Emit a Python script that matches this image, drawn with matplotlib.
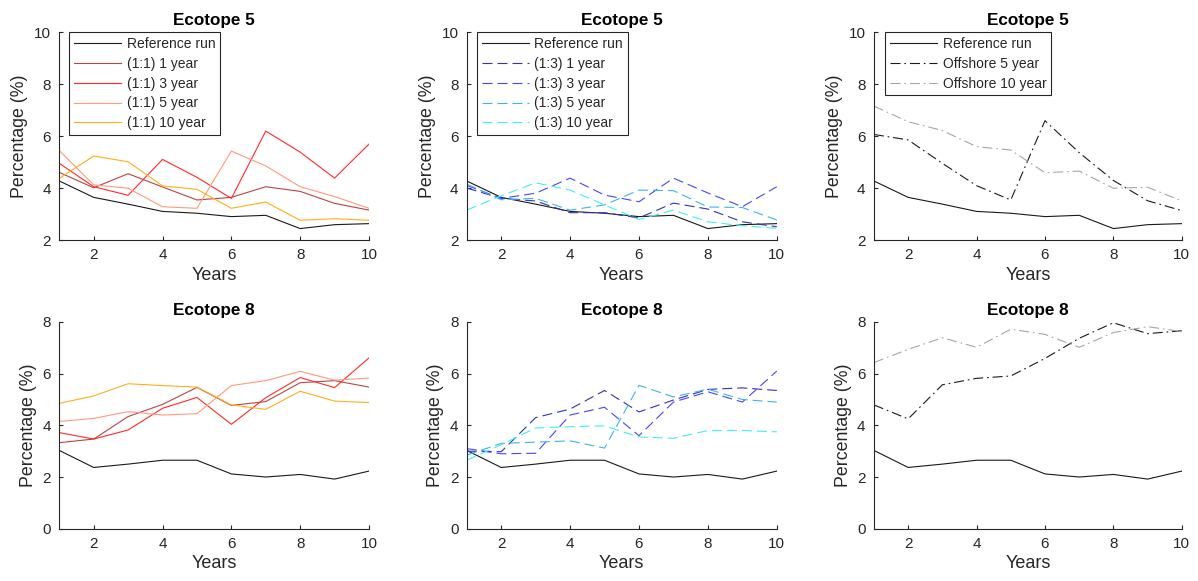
import matplotlib
matplotlib.use("Agg")
import matplotlib.pyplot as plt

plt.rcParams['font.family'] = ['Liberation Sans', 'DejaVu Sans']

years = [1, 2, 3, 4, 5, 6, 7, 8, 9, 10]

# Ecotope 5
e5_ref = [4.27, 3.64, 3.38, 3.10, 3.03, 2.90, 2.95, 2.44, 2.59, 2.63]
e5_11_1 = [4.60, 4.01, 4.55, 4.04, 3.54, 3.64, 4.05, 3.87, 3.41, 3.15]
e5_11_3 = [4.95, 4.05, 3.72, 5.10, 4.41, 3.60, 6.19, 5.38, 4.38, 5.69]
e5_11_5 = [5.44, 4.12, 3.99, 3.28, 3.22, 5.42, 4.85, 4.05, 3.67, 3.22]
e5_11_10 = [4.37, 5.23, 5.01, 4.08, 3.95, 3.22, 3.46, 2.76, 2.82, 2.76]
e5_13_1 = [4.00, 3.60, 3.50, 3.05, 3.05, 2.85, 3.42, 3.19, 2.70, 2.51]
e5_13_3 = [4.10, 3.60, 3.80, 4.38, 3.73, 3.47, 4.38, 3.81, 3.28, 4.05]
e5_13_5 = [4.15, 3.55, 3.60, 3.15, 3.35, 3.92, 3.90, 3.27, 3.25, 2.77]
e5_13_10 = [3.15, 3.70, 4.20, 3.92, 3.35, 2.79, 3.15, 2.70, 2.55, 2.45]
e5_off_5 = [6.06, 5.85, 4.95, 4.09, 3.54, 6.59, 5.36, 4.29, 3.51, 3.13]
e5_off_10 = [7.15, 6.55, 6.21, 5.59, 5.46, 4.59, 4.65, 3.99, 4.03, 3.50]

# Ecotope 8
e8_ref = [3.03, 2.37, 2.50, 2.65, 2.65, 2.12, 2.00, 2.10, 1.92, 2.23]
e8_11_1 = [3.33, 3.47, 4.34, 4.81, 5.47, 4.77, 4.92, 5.65, 5.73, 5.48]
e8_11_3 = [3.72, 3.47, 3.82, 4.66, 5.08, 4.04, 5.07, 5.85, 5.46, 6.61]
e8_11_5 = [4.15, 4.27, 4.53, 4.40, 4.45, 5.54, 5.73, 6.09, 5.75, 5.83]
e8_11_10 = [4.85, 5.14, 5.61, 5.54, 5.48, 4.79, 4.62, 5.32, 4.94, 4.88]
e8_13_1 = [3.00, 2.98, 4.30, 4.63, 5.35, 4.52, 4.98, 5.39, 5.45, 5.35]
e8_13_3 = [3.10, 2.90, 2.92, 4.40, 4.70, 3.60, 4.90, 5.30, 4.90, 6.10]
e8_13_5 = [2.85, 3.30, 3.35, 3.40, 3.12, 5.55, 5.10, 5.40, 5.00, 4.90]
e8_13_10 = [2.65, 3.25, 3.90, 3.95, 3.98, 3.55, 3.50, 3.80, 3.80, 3.75]
e8_off_5 = [4.79, 4.25, 5.57, 5.82, 5.91, 6.59, 7.37, 7.97, 7.55, 7.66]
e8_off_10 = [6.43, 6.94, 7.39, 7.02, 7.72, 7.52, 7.02, 7.59, 7.82, 7.63]

labels_11 = ['Reference run', '(1:1) 1 year', '(1:1) 3 year', '(1:1) 5 year', '(1:1) 10 year']
labels_13 = ['Reference run', '(1:3) 1 year', '(1:3) 3 year', '(1:3) 5 year', '(1:3) 10 year']
labels_off = ['Reference run', 'Offshore 5 year', 'Offshore 10 year']

col_ref = '#1a1a1a'
cols_11 = ['#b84545', '#ff2a2a', '#ff9a7a', '#ffae1a']
cols_13 = ['#3232b4', '#4646ff', '#3cb4f0', '#40f0f0']
cols_off = ['#1a1a1a', '#a6a6a6']
axcol = '#262626'
LW = 0.8
DASH = (0, (9, 4.5))
DASHDOT = (0, (9, 3.5, 1.5, 3.5))

fig = plt.figure(figsize=(11.98, 5.81), dpi=100)

top_row = [0.5869, 0.3580]
bot_row = [0.0900, 0.3558]
lefts = [(0.0495, 0.2585), (0.3896, 0.2588), (0.7295, 0.2570)]


def style(ax, ylim, yticks, title):
    ax.set_xlim(1, 10)
    ax.set_ylim(*ylim)
    ax.set_xticks([2, 4, 6, 8, 10])
    ax.set_yticks(yticks)
    for s in ['top', 'right']:
        ax.spines[s].set_visible(False)
    for s in ['left', 'bottom']:
        ax.spines[s].set_color(axcol)
        ax.spines[s].set_linewidth(0.8)
    ax.tick_params(direction='in', length=3, width=0.8, colors=axcol,
                   labelsize=11, pad=6)
    ax.set_xlabel('Years', fontsize=13, color=axcol, labelpad=3)
    ax.set_ylabel('Percentage (%)', fontsize=12.8, color=axcol, labelpad=4)
    ax.set_title(title, fontsize=12.3, fontweight='bold', color='black', pad=5)


def legend(ax, handles_offset):
    leg = ax.legend(loc='upper left', bbox_to_anchor=(handles_offset, 1.0),
                    borderaxespad=0, fontsize=10, handlelength=3.4,
                    handletextpad=0.4, labelspacing=0.42, borderpad=0.35,
                    fancybox=False, framealpha=1, edgecolor=axcol)
    leg.get_frame().set_linewidth(0.8)
    for t in leg.get_texts():
        t.set_color(axcol)


# Row 1
ax = fig.add_axes([lefts[0][0], top_row[0], lefts[0][1], top_row[1]])
ax.plot(years, e5_ref, color=col_ref, lw=LW, label=labels_11[0])
for vals, c, lab in zip([e5_11_1, e5_11_3, e5_11_5, e5_11_10], cols_11, labels_11[1:]):
    ax.plot(years, vals, color=c, lw=LW, label=lab)
style(ax, (2, 10), [2, 4, 6, 8, 10], 'Ecotope 5')
legend(ax, 0.032)

ax = fig.add_axes([lefts[1][0], top_row[0], lefts[1][1], top_row[1]])
ax.plot(years, e5_ref, color=col_ref, lw=LW, label=labels_13[0])
for vals, c, lab in zip([e5_13_1, e5_13_3, e5_13_5, e5_13_10], cols_13, labels_13[1:]):
    ax.plot(years, vals, color=c, lw=LW, linestyle=DASH, label=lab)
style(ax, (2, 10), [2, 4, 6, 8, 10], 'Ecotope 5')
legend(ax, 0.032)

ax = fig.add_axes([lefts[2][0], top_row[0], lefts[2][1], top_row[1]])
ax.plot(years, e5_ref, color=col_ref, lw=LW, label=labels_off[0])
for vals, c, lab in zip([e5_off_5, e5_off_10], cols_off, labels_off[1:]):
    ax.plot(years, vals, color=c, lw=LW, linestyle=DASHDOT, label=lab)
style(ax, (2, 10), [2, 4, 6, 8, 10], 'Ecotope 5')
legend(ax, 0.036)

# Row 2
ax = fig.add_axes([lefts[0][0], bot_row[0], lefts[0][1], bot_row[1]])
ax.plot(years, e8_ref, color=col_ref, lw=LW)
for vals, c in zip([e8_11_1, e8_11_3, e8_11_5, e8_11_10], cols_11):
    ax.plot(years, vals, color=c, lw=LW)
style(ax, (0, 8), [0, 2, 4, 6, 8], 'Ecotope 8')

ax = fig.add_axes([lefts[1][0], bot_row[0], lefts[1][1], bot_row[1]])
ax.plot(years, e8_ref, color=col_ref, lw=LW)
for vals, c in zip([e8_13_1, e8_13_3, e8_13_5, e8_13_10], cols_13):
    ax.plot(years, vals, color=c, lw=LW, linestyle=DASH)
style(ax, (0, 8), [0, 2, 4, 6, 8], 'Ecotope 8')

ax = fig.add_axes([lefts[2][0], bot_row[0], lefts[2][1], bot_row[1]])
ax.plot(years, e8_ref, color=col_ref, lw=LW)
for vals, c in zip([e8_off_5, e8_off_10], cols_off):
    ax.plot(years, vals, color=c, lw=LW, linestyle=DASHDOT)
style(ax, (0, 8), [0, 2, 4, 6, 8], 'Ecotope 8')

fig.savefig('out.png', dpi=100, facecolor='white')
